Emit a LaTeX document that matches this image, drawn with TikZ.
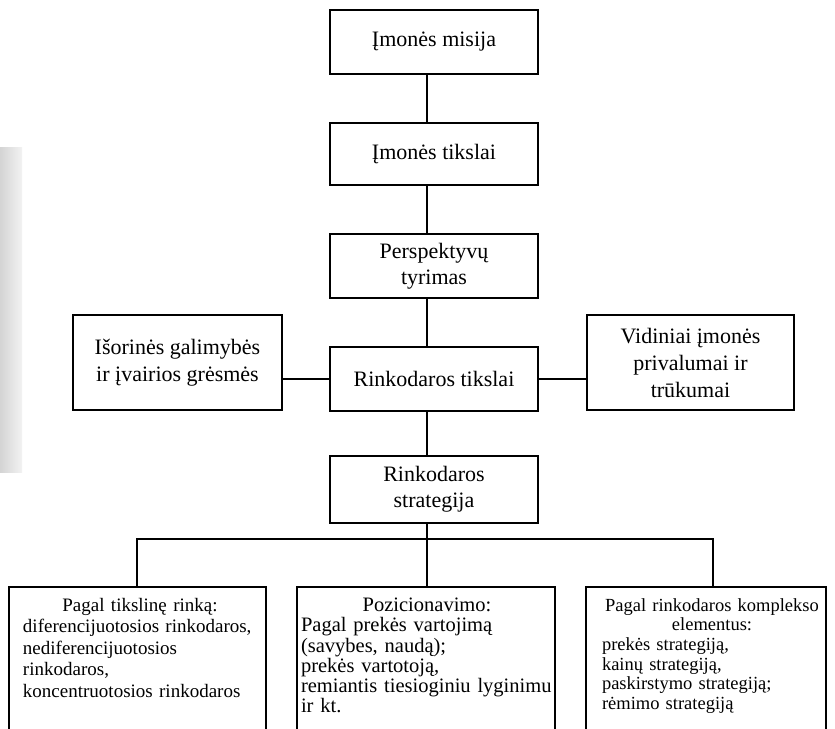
\documentclass[tikz,border=0pt]{standalone}
\usepackage{fontspec}
\setmainfont{Liberation Serif}
\newcommand{\midline}[1]{\hbox to\hsize{\hfil#1\hfil}}
\begin{document}
\begin{tikzpicture}[x=1pt,y=-1pt,
  box/.style={draw, line width=1.1pt, inner sep=0pt, align=center,
    font=\fontsize{22}{26}\selectfont},
  listbox/.style={draw, line width=1.1pt, inner sep=0pt},
  listtext/.style={inner sep=0pt, align=left, anchor=north},
  link/.style={line width=1.1pt}]
\useasboundingbox (0,0) rectangle (835,728);
\clip (0,0) rectangle (835,728);

% shaded strip on the left margin
\shade[left color=black!17, right color=black!5] (0,147) rectangle (22,472);

% guide lines for the connectors
\coordinate (spine) at (427,0);
\coordinate (bus) at (0,539);
\coordinate (dropL) at (137,0);
\coordinate (dropR) at (713,0);

% main chain
\node[box, minimum width=208pt, minimum height=64pt] (misija) at (434,42) {Įmonės misija};
\node[box, minimum width=208pt, minimum height=62pt] (tikslai) at (434,154) {Įmonės tikslai};
\node[box, minimum width=208pt, minimum height=64pt] (persp) at (434,266) {Perspektyvų\\tyrimas};
\node[box, minimum width=208pt, minimum height=64pt] (rtiks) at (434,379) {Rinkodaros tikslai};
\node[box, minimum width=208pt, minimum height=67pt] (rstrat) at (434,489.5) {Rinkodaros\\strategija};

% side boxes
\node[box, minimum width=209pt, minimum height=95pt, font=\fontsize{22}{27}\selectfont] (isor) at (177.5,362.5)
  {Išorinės galimybės\\ir įvairios grėsmės};
\node[box, minimum width=207pt, minimum height=95pt, font=\fontsize{22}{27}\selectfont] (vidin) at (690.5,362.5)
  {Vidiniai įmonės\\privalumai ir\\trūkumai};

% strategy boxes (run past the lower edge)
\node[listbox, minimum width=257pt, minimum height=173pt] (pl) at (137.5,673.5) {};
\node[listbox, minimum width=258pt, minimum height=173pt] (pm) at (426,673.5) {};
\node[listbox, minimum width=240pt, minimum height=173pt] (pr) at (706,673.5) {};

\node[listtext, text width=234pt, font=\fontsize{19}{21.5}\selectfont] (tl) at (140,598)
  {\midline{Pagal tikslinę rinką:}
   diferencijuotosios rinkodaros,\\
   nediferencijuotosios\\
   rinkodaros,\\
   koncentruotosios rinkodaros};
\node[listtext, text width=252pt, font=\fontsize{20.5}{20.2}\selectfont] (tm) at (427,598)
  {\midline{Pozicionavimo:}
   Pagal prekės vartojimą\\
   (savybes, naudą);\\
   prekės vartotoją,\\
   remiantis tiesioginiu lyginimu\\
   ir kt.};
\node[listtext, text width=220pt, font=\fontsize{18.5}{19.7}\selectfont] (tr) at (712,598)
  {\midline{Pagal rinkodaros komplekso}
   \midline{elementus:}
   prekės strategiją,\\
   kainų strategiją,\\
   paskirstymo strategiją;\\
   rėmimo strategiją};

% connectors
\draw[link] (misija.south -| spine) -- (tikslai.north -| spine);
\draw[link] (tikslai.south -| spine) -- (persp.north -| spine);
\draw[link] (persp.south -| spine) -- (rtiks.north -| spine);
\draw[link] (rtiks.south -| spine) -- (rstrat.north -| spine);
\draw[link] (rtiks.west) -- (rtiks.west -| isor.east);
\draw[link] (rtiks.east) -- (rtiks.east -| vidin.west);
\draw[link] (rstrat.south -| spine) -- (pm.north -| spine);
\draw[link] (pl.north -| dropL) -- (bus -| dropL) -- (bus -| dropR) -- (pr.north -| dropR);
\end{tikzpicture}
\end{document}
